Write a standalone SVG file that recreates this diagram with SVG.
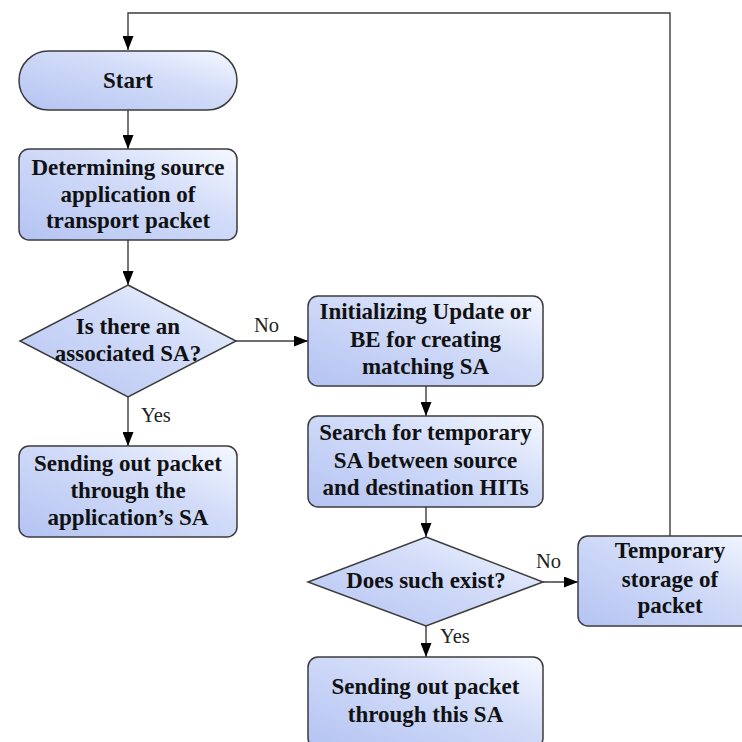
<svg xmlns="http://www.w3.org/2000/svg" width="742" height="742" viewBox="0 0 742 742">
  <style>
    .shape { fill: url(#fillGrad); stroke: #3c3c3c; stroke-width: 1.5; }
    .label { font-family: "Liberation Serif", "Times New Roman", serif; font-size: 23px; font-weight: bold; fill: #111; text-anchor: middle; }
    .edge-label { font-family: "Liberation Serif", "Times New Roman", serif; font-size: 20.5px; fill: #222; }
    .wire { fill: none; stroke: #3c3c3c; stroke-width: 1.4; }
  </style>
  <defs>
    <linearGradient id="fillGrad" x1="0" y1="1" x2="1" y2="0">
      <stop offset="0" stop-color="#b4c3f2"/>
      <stop offset="0.6" stop-color="#d3ddf9"/>
      <stop offset="1" stop-color="#f5f8ff"/>
    </linearGradient>
    <marker id="arrow" viewBox="0 0 14 11" refX="14" refY="5.5" markerWidth="14" markerHeight="11" markerUnits="userSpaceOnUse" orient="auto">
      <path d="M0,0 L14,5.5 L0,11 Z" fill="#000"/>
    </marker>
  </defs>

  <g id="connectors">
    <path class="wire" d="M670,536 V13 H128 V50" marker-end="url(#arrow)"/>
    <path class="wire" d="M128,110 V149" marker-end="url(#arrow)"/>
    <path class="wire" d="M128,240 V285" marker-end="url(#arrow)"/>
    <path class="wire" d="M236,341 H308" marker-end="url(#arrow)"/>
    <path class="wire" d="M128,397 V446" marker-end="url(#arrow)"/>
    <path class="wire" d="M426,386 V416" marker-end="url(#arrow)"/>
    <path class="wire" d="M426,507 V537" marker-end="url(#arrow)"/>
    <path class="wire" d="M543,582 H578" marker-end="url(#arrow)"/>
    <path class="wire" d="M426,626 V657" marker-end="url(#arrow)"/>
    <text class="edge-label" x="254" y="332">No</text>
    <text class="edge-label" x="141" y="422">Yes</text>
    <text class="edge-label" x="536" y="568">No</text>
    <text class="edge-label" x="440" y="643">Yes</text>
  </g>

  <g id="start">
    <rect class="shape" x="19" y="51" width="218" height="59" rx="29.5" ry="29.5"/>
    <text class="label" x="128" y="88">Start</text>
  </g>

  <g id="determine-source">
    <rect class="shape" x="19" y="149" width="218" height="91" rx="10" ry="10"/>
    <text class="label" x="128" y="175">Determining source</text>
    <text class="label" x="128" y="202">application of</text>
    <text class="label" x="128" y="228">transport packet</text>
  </g>

  <g id="has-sa">
    <polygon class="shape" points="128,285 236,341 128,397 20,341"/>
    <text class="label" x="128" y="334">Is there an</text>
    <text class="label" x="128" y="361">associated SA?</text>
  </g>

  <g id="send-app-sa">
    <rect class="shape" x="19" y="446" width="218" height="91" rx="10" ry="10"/>
    <text class="label" x="128" y="471">Sending out packet</text>
    <text class="label" x="128" y="498">through the</text>
    <text class="label" x="128" y="525">application’s SA</text>
  </g>

  <g id="init-update">
    <rect class="shape" x="308" y="296" width="235" height="90" rx="10" ry="10"/>
    <text class="label" x="425.5" y="319">Initializing Update or</text>
    <text class="label" x="425.5" y="347">BE for creating</text>
    <text class="label" x="425.5" y="374">matching SA</text>
  </g>

  <g id="search-temp-sa">
    <rect class="shape" x="308" y="416" width="235" height="91" rx="10" ry="10"/>
    <text class="label" x="425.5" y="440">Search for temporary</text>
    <text class="label" x="425.5" y="468">SA between source</text>
    <text class="label" x="425.5" y="495">and destination HITs</text>
  </g>

  <g id="exists">
    <polygon class="shape" points="426,537 543,582 426,626 308,582"/>
    <text class="label" x="426" y="588">Does such exist?</text>
  </g>

  <g id="temp-storage">
    <rect class="shape" x="578" y="536" width="184" height="90" rx="10" ry="10"/>
    <text class="label" x="670" y="558">Temporary</text>
    <text class="label" x="670" y="587">storage of</text>
    <text class="label" x="670" y="613">packet</text>
  </g>

  <g id="send-this-sa">
    <rect class="shape" x="308" y="657" width="235" height="91" rx="10" ry="10"/>
    <text class="label" x="425.5" y="694">Sending out packet</text>
    <text class="label" x="425.5" y="722">through this SA</text>
  </g>
</svg>
